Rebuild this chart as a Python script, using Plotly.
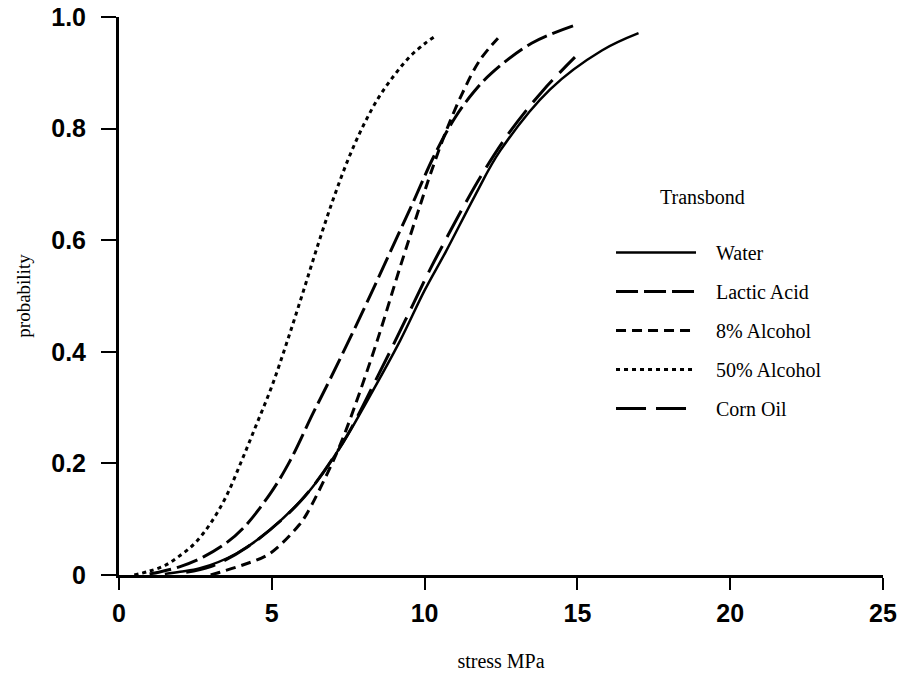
import plotly.graph_objects as go

# ---- data ----
water_x = [1.5, 2.0, 2.65, 3.86, 4.94, 6.25, 7.33, 8.1, 9.2, 10.0, 10.7, 11.65, 12.47, 14.1, 15.8, 17.0]
water_y = [0.002, 0.006, 0.012, 0.039, 0.081, 0.152, 0.237, 0.31, 0.42, 0.51, 0.58, 0.68, 0.76, 0.87, 0.94, 0.971]

lactic_x = [1.0, 1.3, 2.0, 2.75, 3.5, 4.1, 5.0, 5.6, 6.35, 6.9, 8.0, 8.8, 9.6, 10.3, 11.0, 11.6, 12.2, 13.5, 14.9]
lactic_y = [0.002, 0.005, 0.015, 0.032, 0.057, 0.086, 0.15, 0.205, 0.29, 0.35, 0.475, 0.57, 0.665, 0.75, 0.82, 0.865, 0.90, 0.953, 0.985]

alc8_x = [3.0, 3.3, 4.05, 4.8, 5.2, 5.9, 6.15, 6.8, 7.25, 7.7, 8.45, 9.2, 9.85, 10.2, 10.7, 11.25, 11.8, 12.4]
alc8_y = [0.0, 0.005, 0.018, 0.034, 0.05, 0.09, 0.11, 0.18, 0.235, 0.30, 0.42, 0.552, 0.662, 0.72, 0.795, 0.865, 0.922, 0.962]

alc50_x = [0.5, 1.0, 1.5, 2.0, 2.5, 3.0, 3.5, 4.0, 4.5, 5.0, 5.5, 6.0, 6.5, 7.0, 7.5, 8.0, 8.5, 9.0, 9.5, 10.0, 10.3]
alc50_y = [0.0, 0.007, 0.017, 0.035, 0.058, 0.093, 0.14, 0.203, 0.27, 0.338, 0.418, 0.503, 0.59, 0.672, 0.745, 0.806, 0.856, 0.895, 0.928, 0.952, 0.964]

corn_x = [2.2, 3.0, 4.2, 5.9, 7.3, 8.5, 9.4, 10.2, 10.73, 11.27, 11.9, 12.8, 13.87, 14.92]
corn_y = [0.005, 0.015, 0.05, 0.13, 0.235, 0.36, 0.46, 0.55, 0.605, 0.66, 0.72, 0.795, 0.868, 0.928]

series_names = ["Water", "Lactic Acid", "8% Alcohol", "50% Alcohol", "Corn Oil"]
legend_title = "Transbond"
x_ticks = [0, 5, 10, 15, 20, 25]
y_ticks = [0, 0.2, 0.4, 0.6, 0.8, 1.0]
y_tick_text = ["0", "0.2", "0.4", "0.6", "0.8", "1.0"]

series = [
    (series_names[0], water_x, water_y, "solid", 2.5),
    (series_names[1], lactic_x, lactic_y, "22px,6px", 3),
    (series_names[2], alc8_x, alc8_y, "10px,6px", 3),
    (series_names[3], alc50_x, alc50_y, "4px,4px", 3),
    (series_names[4], corn_x, corn_y, "30px,10px", 3),
]

SERIF = "Liberation Serif, Times New Roman, serif"
SANS = "Liberation Sans, Arial, sans-serif"
pad = "\u00a0" * 3

fig = go.Figure()
for i, (name, xs, ys, dash, w) in enumerate(series):
    fig.add_trace(go.Scatter(
        x=xs, y=ys, name=pad + name, mode="lines",
        line=dict(color="black", width=w, dash=dash, shape="spline", smoothing=1.0),
        legendgroup=f"g{i}",
    ))

fig.add_annotation(
    text=legend_title, xref="paper", yref="paper", x=0.764, y=0.677,
    xanchor="center", yanchor="middle", showarrow=False,
    font=dict(family=SERIF, size=20, color="black"),
)

fig.update_layout(
    width=898, height=679,
    margin=dict(l=119, r=15, t=17, b=104, autoexpand=False),
    paper_bgcolor="white", plot_bgcolor="white",
    showlegend=True,
    legend=dict(
        x=0.644, y=0.613, xanchor="left", yanchor="top",
        bgcolor="rgba(0,0,0,0)",
        font=dict(family=SERIF, size=20, color="black"),
        itemwidth=80,
        tracegroupgap=10,
    ),
    xaxis=dict(
        range=[0, 25], tickvals=x_ticks, ticks="outside", ticklen=12, tickwidth=2,
        tickcolor="black", showline=True, linewidth=3, linecolor="black",
        showgrid=False, zeroline=False, automargin=False, ticklabeloverflow="allow",
        tickfont=dict(family=SANS, size=25, color="black", weight="bold"),
        ticklabelstandoff=2,
        title=dict(text="stress MPa", standoff=28,
                   font=dict(family=SERIF, size=20, color="black")),
    ),
    yaxis=dict(
        range=[0, 1], tickvals=y_ticks, ticktext=y_tick_text, ticks="outside", ticklen=15, tickwidth=2,
        tickcolor="black", showline=True, linewidth=3, linecolor="black",
        showgrid=False, zeroline=False, automargin=False, ticklabeloverflow="allow",
        tickfont=dict(family=SANS, size=25, color="black", weight="bold"),
        ticklabelstandoff=10,
        title=dict(text="probability", standoff=16,
                   font=dict(family=SERIF, size=19, color="black")),
    ),
)

# remove the default page margin so the 898x679 figure fills the window exactly
fig.write_html(
    "out.html",
    config={"displayModeBar": False},
    post_script="document.body.style.margin='0';document.body.style.overflow='hidden';",
)
